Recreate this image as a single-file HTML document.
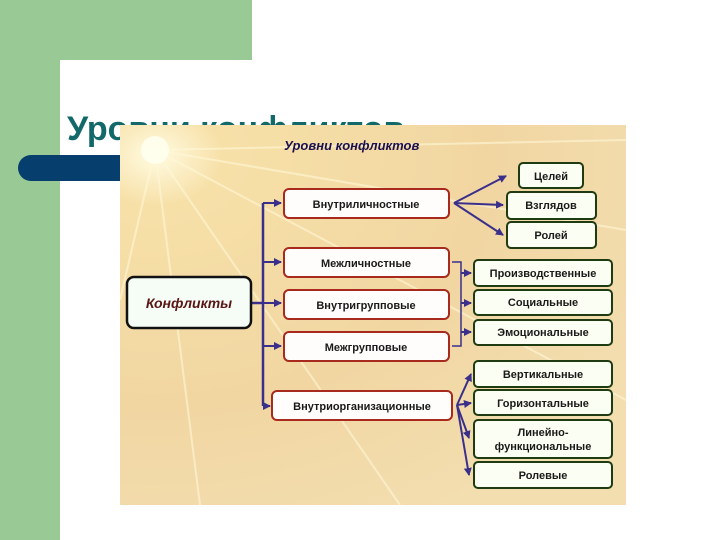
<!DOCTYPE html>
<html><head><meta charset="utf-8"><style>
html,body{margin:0;padding:0;width:720px;height:540px;overflow:hidden;background:#fff;}
</style></head><body>
<svg width="720" height="540" xmlns="http://www.w3.org/2000/svg" font-family="Liberation Sans, DejaVu Sans, sans-serif">
<defs>
<radialGradient id="bg" cx="0.07" cy="0.08" r="1.1">
<stop offset="0" stop-color="#fffbe0"/>
<stop offset="0.12" stop-color="#f7e0a8"/>
<stop offset="0.6" stop-color="#f1d6a2"/>
<stop offset="1" stop-color="#f3deb0"/>
</radialGradient>
<marker id="a" markerWidth="8" markerHeight="8" refX="7" refY="4" orient="auto" markerUnits="userSpaceOnUse"><path d="M0,0 L8,4 L0,8 Z" fill="#3a2f8a"/></marker>
</defs>
<rect x="0" y="0" width="252" height="60" fill="#99ca96"/>
<rect x="0" y="0" width="60" height="540" fill="#99ca96"/>
<path d="M60,540 L60,80 Q60,60 80,60 L720,60 L720,540 Z" fill="#fff"/>
<rect x="18" y="155" width="140" height="26" rx="13" fill="#063e6e"/>
<text x="67" y="140" font-size="34" font-weight="bold" fill="#13696a">Уровни конфликтов</text>
<rect x="120" y="125" width="506" height="380" fill="url(#bg)"/>
<g stroke="#fff8d8" stroke-width="2" opacity="0.6">
<line x1="155" y1="150" x2="626" y2="230"/><line x1="155" y1="150" x2="626" y2="400"/>
<line x1="155" y1="150" x2="400" y2="505"/><line x1="155" y1="150" x2="200" y2="505"/>
<line x1="155" y1="150" x2="626" y2="140"/><line x1="155" y1="150" x2="120" y2="300"/>
</g>
<circle cx="155" cy="150" r="14" fill="#fffff0" opacity="0.9"/>
<text x="284" y="150" font-size="13" font-weight="bold" font-style="italic" fill="#1a1050">Уровни конфликтов</text>
<g fill="none" stroke="#3a2f8a" stroke-width="2.5">
<line x1="251" y1="303" x2="263" y2="303"/>
<line x1="263" y1="203" x2="263" y2="406"/>
</g>
<g stroke="#3a2f8a" stroke-width="2" marker-end="url(#a)">
<line x1="263" y1="203" x2="281" y2="203"/>
<line x1="263" y1="262" x2="281" y2="262"/>
<line x1="263" y1="303" x2="281" y2="303"/>
<line x1="263" y1="346" x2="281" y2="346"/>
<line x1="263" y1="406" x2="270" y2="406"/>
<line x1="454" y1="203" x2="506" y2="176"/>
<line x1="454" y1="203" x2="503" y2="205"/>
<line x1="454" y1="203" x2="503" y2="235"/>
<line x1="461" y1="273" x2="471" y2="273"/>
<line x1="461" y1="303" x2="471" y2="303"/>
<line x1="461" y1="332" x2="471" y2="332"/>
<line x1="457" y1="405" x2="471" y2="374"/>
<line x1="457" y1="405" x2="471" y2="403"/>
<line x1="457" y1="405" x2="469" y2="438"/>
<line x1="457" y1="405" x2="469" y2="475"/>
</g>
<path d="M452,262 H461 V346 H452" fill="none" stroke="#3a2f8a" stroke-width="1.5"/>
<g stroke="#a82a1e" stroke-width="2" fill="#fffdfb">
<rect x="284" y="189" width="165" height="29" rx="5"/>
<rect x="284" y="248" width="165" height="29" rx="5"/>
<rect x="284" y="290" width="165" height="29" rx="5"/>
<rect x="284" y="332" width="165" height="29" rx="5"/>
<rect x="272" y="391" width="180" height="29" rx="5"/>
</g>
<g stroke="#1f3b12" stroke-width="2" fill="#fbfef2">
<rect x="519" y="163" width="64" height="25" rx="4"/>
<rect x="507" y="192" width="89" height="27" rx="4"/>
<rect x="507" y="222" width="89" height="26" rx="4"/>
<rect x="474" y="260" width="138" height="26" rx="4"/>
<rect x="474" y="290" width="138" height="25" rx="4"/>
<rect x="474" y="320" width="138" height="25" rx="4"/>
<rect x="474" y="361" width="138" height="26" rx="4"/>
<rect x="474" y="390" width="138" height="25" rx="4"/>
<rect x="474" y="420" width="138" height="38" rx="4"/>
<rect x="474" y="462" width="138" height="26" rx="4"/>
</g>
<rect x="127" y="277" width="124" height="51" rx="7" fill="#f6fdf6" stroke="#111" stroke-width="2.5"/>
<text x="189" y="308" font-size="14" font-weight="bold" font-style="italic" fill="#5a1515" text-anchor="middle">Конфликты</text>
<g font-size="11" font-weight="bold" fill="#1a1a1a" text-anchor="middle">
<text x="366" y="208">Внутриличностные</text>
<text x="366" y="267">Межличностные</text>
<text x="366" y="309">Внутригрупповые</text>
<text x="366" y="351">Межгрупповые</text>
<text x="362" y="410">Внутриорганизационные</text>
<text x="551" y="180">Целей</text>
<text x="551" y="209">Взглядов</text>
<text x="551" y="239">Ролей</text>
<text x="543" y="277">Производственные</text>
<text x="543" y="306">Социальные</text>
<text x="543" y="336">Эмоциональные</text>
<text x="543" y="378">Вертикальные</text>
<text x="543" y="407">Горизонтальные</text>
<text x="543" y="436">Линейно-</text>
<text x="543" y="450">функциональные</text>
<text x="543" y="479">Ролевые</text>
</g>
</svg>
</body></html>
